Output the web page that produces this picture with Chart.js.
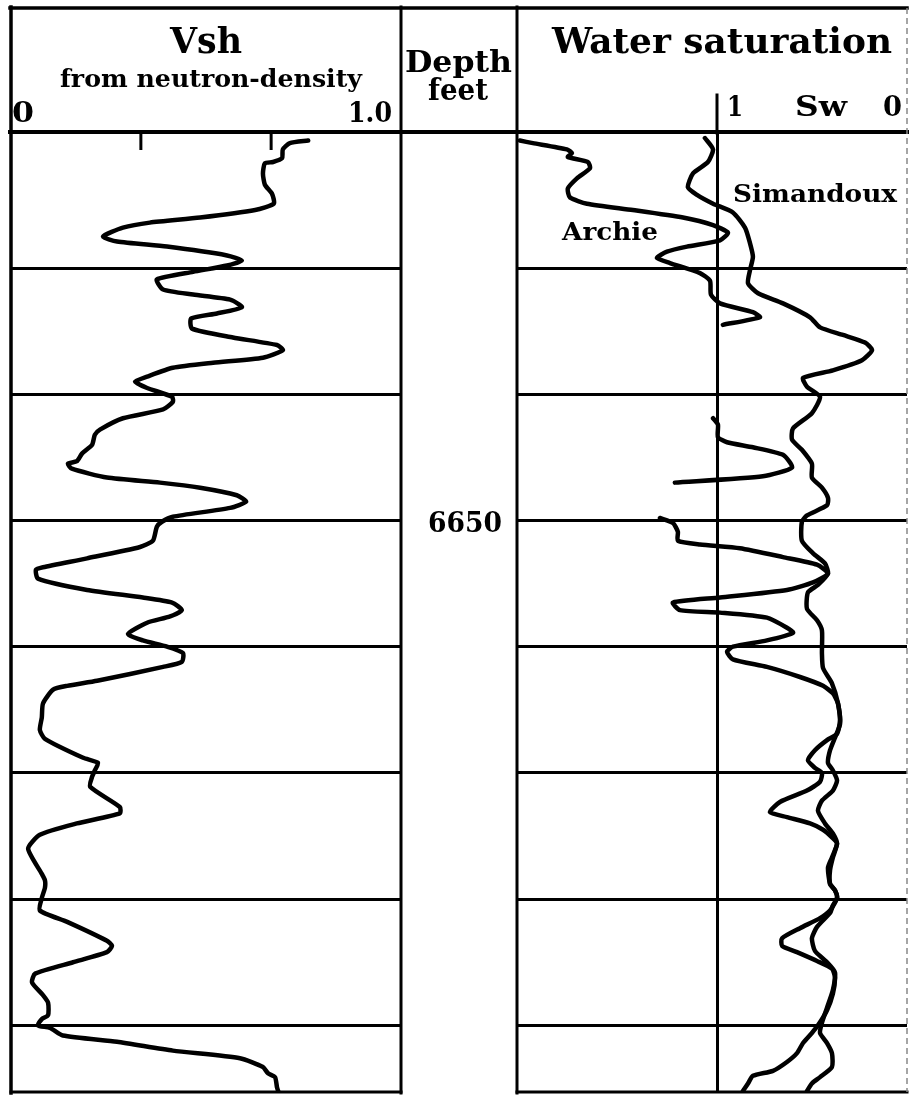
<!DOCTYPE html>
<html>
<head>
<meta charset="utf-8">
<script src="https://cdn.jsdelivr.net/npm/chart.js@4.4.0/dist/chart.umd.min.js"></script>
<style>
body { margin: 0; background: #fff; }
#page { position: relative; width: 909px; height: 1095px; overflow: hidden; background: #fff; }
canvas { position: absolute; }
#vsh_chart { left: 11px; top: 133px; }
#sw_chart { left: 517px; top: 133px; }
svg { position: absolute; left: 0; top: 0; }
svg text { font-family: "DejaVu Serif", serif; font-weight: bold; fill: #000; }
</style>
</head>
<body>
<div id="page">
<canvas id="vsh_chart" width="390" height="958"></canvas>
<canvas id="sw_chart" width="390" height="958"></canvas>
<svg width="909" height="1095">
  <g stroke="#000" fill="none" stroke-linecap="square">
    <line x1="10" y1="8" x2="907" y2="8" stroke-width="3.5"/>
    <line x1="10" y1="132" x2="907" y2="132" stroke-width="4"/>
    <line x1="11" y1="7" x2="11" y2="1093" stroke-width="3.5"/>
    <line x1="401" y1="7" x2="401" y2="1093" stroke-width="3"/>
    <line x1="517" y1="7" x2="517" y2="1093" stroke-width="3"/>
    <line x1="11" y1="1092" x2="401" y2="1092" stroke-width="3"/>
    <line x1="517" y1="1092" x2="907" y2="1092" stroke-width="3"/>
    <line x1="717" y1="95" x2="717" y2="133" stroke-width="3"/>
  </g>
  <line x1="907" y1="8" x2="907" y2="1092" stroke="#888" stroke-width="1.5" stroke-dasharray="6 4"/>
  <text x="206" y="53" font-size="35" text-anchor="middle" textLength="72" lengthAdjust="spacingAndGlyphs">Vsh</text>
  <text x="211" y="87" font-size="24" text-anchor="middle" textLength="302" lengthAdjust="spacingAndGlyphs">from neutron-density</text>
  <text x="12" y="122" font-size="28" textLength="22" lengthAdjust="spacingAndGlyphs">0</text>
  <text x="392" y="122" font-size="28" text-anchor="end" textLength="44" lengthAdjust="spacingAndGlyphs">1.0</text>
  <text x="458.5" y="72" font-size="30" text-anchor="middle" textLength="107" lengthAdjust="spacingAndGlyphs">Depth</text>
  <text x="458" y="100" font-size="29" text-anchor="middle" textLength="60" lengthAdjust="spacingAndGlyphs">feet</text>
  <text x="722" y="53" font-size="36" text-anchor="middle" textLength="340" lengthAdjust="spacingAndGlyphs">Water saturation</text>
  <text x="727" y="116" font-size="28" textLength="16" lengthAdjust="spacingAndGlyphs">1</text>
  <text x="821" y="116" font-size="28" text-anchor="middle" textLength="52" lengthAdjust="spacingAndGlyphs">Sw</text>
  <text x="902" y="116" font-size="28" text-anchor="end" textLength="19" lengthAdjust="spacingAndGlyphs">0</text>
  <text x="733" y="202" font-size="25" textLength="164" lengthAdjust="spacingAndGlyphs">Simandoux</text>
  <text x="562" y="240" font-size="25" textLength="96" lengthAdjust="spacingAndGlyphs">Archie</text>
  <text x="465" y="532" font-size="27" text-anchor="middle" textLength="74" lengthAdjust="spacingAndGlyphs">6650</text>
</svg>
</div>
<script>
// depth range of the log (feet) and the depth lines
var depthTop = 6619.3
var depthBottom = 6695.2
var depthLines = [6630, 6640, 6650, 6660, 6670, 6680, 6690]

// small marks at the top of the vsh track
var vshTicks = [0.333, 0.667]
// sw grid line
var swLines = [1]
var swMax = 2.063

// vsh from neutron-density
var vshDepth = [6619.9, 6620.1, 6620.6, 6621.3, 6621.6, 6621.7, 6622.5, 6623.4, 6624.1, 6624.9,
    6625.4, 6626.0, 6626.4, 6626.8, 6627.5, 6627.9, 6628.3, 6629.0, 6629.4, 6629.8,
    6630.3, 6630.9, 6631.7, 6632.1, 6632.5, 6633.1, 6633.6, 6634.0, 6634.8, 6635.5,
    6636.1, 6636.5, 6637.1, 6637.5, 6637.9, 6638.6, 6639.0, 6639.5, 6640.2, 6640.6,
    6641.2, 6641.9, 6642.8, 6643.2, 6644.0, 6644.7, 6645.3, 6645.5, 6645.9, 6646.6,
    6647.0, 6647.4, 6648.0, 6648.5, 6649.0, 6649.7, 6650.1, 6650.5, 6651.6, 6652.1,
    6653.0, 6653.7, 6653.9, 6654.6, 6655.5, 6656.1, 6656.5, 6657.1, 6657.6, 6658.1,
    6659.0, 6659.5, 6660.0, 6660.5, 6661.2, 6661.6, 6662.7, 6663.1, 6663.4, 6664.5,
    6665.6, 6666.6, 6667.3, 6668.8, 6669.2, 6669.8, 6670.3, 6671.1, 6672.7, 6673.2,
    6674.0, 6674.9, 6676.0, 6678.0, 6678.5, 6679.1, 6679.9, 6680.9, 6681.8, 6683.3,
    6683.7, 6684.2, 6685.0, 6685.9, 6686.6, 6687.6, 6688.2, 6689.2, 6689.5, 6690.0,
    6690.2, 6690.8, 6691.3, 6692.0, 6692.6, 6693.3, 6693.8, 6694.1, 6694.9, 6695.2]
var vshValue = [0.762, 0.715, 0.697, 0.695, 0.672, 0.651, 0.646, 0.651, 0.669, 0.674,
    0.626, 0.485, 0.356, 0.287, 0.236, 0.272, 0.400, 0.554, 0.592, 0.554,
    0.467, 0.374, 0.390, 0.467, 0.562, 0.592, 0.528, 0.462, 0.464, 0.569,
    0.682, 0.697, 0.646, 0.518, 0.415, 0.349, 0.318, 0.349, 0.413, 0.415,
    0.390, 0.287, 0.228, 0.215, 0.208, 0.182, 0.169, 0.146, 0.156, 0.246,
    0.382, 0.485, 0.579, 0.603, 0.562, 0.415, 0.387, 0.374, 0.364, 0.331,
    0.195, 0.082, 0.064, 0.069, 0.195, 0.338, 0.413, 0.438, 0.408, 0.349,
    0.300, 0.338, 0.400, 0.441, 0.438, 0.390, 0.221, 0.144, 0.108, 0.082,
    0.079, 0.074, 0.087, 0.185, 0.223, 0.215, 0.208, 0.203, 0.279, 0.279,
    0.169, 0.074, 0.044, 0.079, 0.087, 0.087, 0.079, 0.074, 0.144, 0.246,
    0.259, 0.246, 0.159, 0.062, 0.054, 0.082, 0.095, 0.095, 0.079, 0.069,
    0.100, 0.133, 0.272, 0.415, 0.587, 0.646, 0.659, 0.677, 0.682, 0.685]

// archie sw (null = gap in the curve)
var archieDepth = [6619.9, 6620.1, 6620.6, 6620.9, 6621.2, 6621.6, 6622.1, 6622.9, 6623.7, 6624.4,
    6624.9, 6625.4, 6626.0, 6626.6, 6627.2, 6627.8, 6628.3, 6628.7, 6629.2, 6629.6,
    6630.4, 6631.0, 6632.1, 6632.8, 6633.5, 6633.9, 6634.5,
    null,
    6641.9, 6642.4, 6643.4, 6643.8, 6644.2, 6644.8, 6645.8, 6646.5, 6647.0,
    null,
    6649.8, 6650.2, 6650.9, 6651.6, 6651.9, 6652.2, 6652.9, 6653.5, 6654.2, 6654.9,
    6655.5, 6656.1, 6656.5, 6657.1, 6657.3, 6657.7, 6658.5, 6658.9, 6659.5, 6660.0,
    6660.4, 6661.0, 6661.6, 6662.4, 6663.1, 6663.7,
    6664.5, 6665.8, 6666.9, 6667.4, 6668.2, 6669.0, 6669.6, 6670.0, 6670.7, 6671.4,
    6672.3, 6673.1, 6673.5, 6674.0, 6674.5, 6675.1, 6675.6, 6676.7, 6677.5, 6678.8,
    6679.3, 6679.9, 6680.9, 6681.5, 6682.3, 6683.1, 6683.7, 6684.2, 6684.9, 6685.5,
    6686.2, 6687.5, 6688.8, 6690.0, 6690.6, 6691.4, 6692.2, 6692.9, 6693.6, 6694.0,
    6694.6, 6695.2]
var archieSw = [2.048, 1.979, 1.799, 1.772, 1.794, 1.688, 1.677, 1.746, 1.794, 1.783,
    1.693, 1.450, 1.185, 1.026, 0.947, 0.989, 1.164, 1.270, 1.323, 1.254,
    1.095, 1.042, 1.037, 0.989, 0.815, 0.778, 0.974,
    null,
    1.026, 1.0, 1.0, 0.952, 0.815, 0.656, 0.608, 0.762, 1.228,
    null,
    1.307, 1.238, 1.212, 1.212, 1.095, 0.884, 0.656, 0.476, 0.418, 0.497,
    0.635, 0.989, 1.238, 1.201, 0.989, 0.741, 0.635, 0.603, 0.741, 0.921,
    0.952, 0.921, 0.741, 0.566, 0.444, 0.392,
    0.365, 0.354, 0.370, 0.423, 0.487, 0.524, 0.487, 0.450, 0.460, 0.529,
    0.672, 0.725, 0.635, 0.513, 0.444, 0.397, 0.370, 0.397, 0.418, 0.407,
    0.381, 0.370, 0.407, 0.460, 0.566, 0.661, 0.661, 0.582, 0.476, 0.397,
    0.381, 0.392, 0.423, 0.471, 0.503, 0.550, 0.582, 0.635, 0.709, 0.815,
    0.841, 0.868]

// simandoux sw
var simDepth = [6619.7, 6620.6, 6621.6, 6622.5, 6623.6, 6624.2, 6624.9, 6625.6, 6626.8, 6628.0,
    6629.1, 6630.2, 6631.2, 6632.0, 6632.8, 6633.9, 6634.7, 6635.3, 6635.9, 6636.5,
    6637.3, 6638.1, 6638.7, 6639.4, 6640.2, 6641.5, 6642.7, 6643.6, 6644.4, 6645.5,
    6646.6, 6647.4, 6648.2, 6648.8, 6649.6, 6650.1, 6651.6, 6652.6, 6653.4, 6654.2,
    6655.1, 6655.7, 6657.0, 6657.9, 6658.7, 6660.5, 6661.7, 6662.9, 6664.5, 6666.1,
    6667.2, 6668.2, 6669.2, 6669.8, 6670.6, 6671.4, 6672.2, 6673.0, 6674.0, 6674.8,
    6675.6, 6676.7, 6677.7, 6678.8, 6679.3, 6679.9, 6680.5, 6681.1, 6682.2, 6683.1,
    6684.1, 6685.0, 6685.8, 6687.2, 6688.6, 6689.8, 6690.6, 6691.4, 6692.2, 6693.3,
    6694.1, 6694.6, 6695.2]
var simSw = [1.069, 1.026, 1.053, 1.132, 1.159, 1.111, 1.026, 0.921, 0.857, 0.831,
    0.815, 0.831, 0.841, 0.788, 0.656, 0.513, 0.460, 0.339, 0.222, 0.185,
    0.238, 0.392, 0.550, 0.529, 0.460, 0.503, 0.603, 0.608, 0.556, 0.503,
    0.503, 0.450, 0.418, 0.423, 0.529, 0.556, 0.556, 0.497, 0.434, 0.418,
    0.471, 0.524, 0.529, 0.476, 0.450, 0.450, 0.444, 0.397, 0.365, 0.354,
    0.381, 0.407, 0.418, 0.392, 0.370, 0.392, 0.450, 0.471, 0.434, 0.392,
    0.370, 0.392, 0.407, 0.407, 0.381, 0.370, 0.392, 0.407, 0.476, 0.503,
    0.487, 0.423, 0.381, 0.392, 0.423, 0.450, 0.460, 0.423, 0.397, 0.397,
    0.460, 0.503, 0.529]


function toPoints(xs, ys){
    var pts = []
    for (var i = 0; i < xs.length; i++){
        pts.push({x: xs[i], y: ys[i]})
    }
    return pts
}

function curve(xs, ys){
    return {
        data: toPoints(xs, ys),
        showLine: true,
        borderColor: '#000',
        borderWidth: 4.5,
        borderJoinStyle: 'round',
        borderCapStyle: 'round',
        pointRadius: 0,
        tension: 0.2,
        spanGaps: false
    }
}

function depthAxis(){
    return {
        type: 'linear',
        reverse: true,
        min: depthTop,
        max: depthBottom,
        afterBuildTicks: function(scale){
            scale.ticks = depthLines.map(function(v){ return {value: v} })
        },
        ticks: {display: false},
        grid: {color: '#000', lineWidth: 3, drawTicks: false},
        border: {display: false}
    }
}

var topTicks = {
    id: 'topTicks',
    afterDraw: function(chart){
        var ctx = chart.ctx
        var top = chart.chartArea.top
        ctx.save()
        ctx.strokeStyle = '#000'
        ctx.lineWidth = 3
        for (var v of vshTicks){
            var px = chart.scales.x.getPixelForValue(v)
            ctx.beginPath()
            ctx.moveTo(px, top)
            ctx.lineTo(px, top + 17)
            ctx.stroke()
        }
        ctx.restore()
    }
}

var baseOptions = {
    responsive: false,
    animation: false,
    devicePixelRatio: 1,
    events: [],
    layout: {padding: 0},
    plugins: {legend: {display: false}, tooltip: {enabled: false}}
}

var vshChart = new Chart(document.getElementById('vsh_chart').getContext('2d'), {
    type: 'scatter',
    data: {datasets: [curve(vshValue, vshDepth)]},
    options: Object.assign({}, baseOptions, {
        scales: {
            x: {type: 'linear', min: 0, max: 1, display: false},
            y: depthAxis()
        }
    }),
    plugins: [topTicks]
})

var swChart = new Chart(document.getElementById('sw_chart').getContext('2d'), {
    type: 'scatter',
    data: {datasets: [curve(archieSw, archieDepth), curve(simSw, simDepth)]},
    options: Object.assign({}, baseOptions, {
        scales: {
            x: {
                type: 'linear', min: 0, max: swMax, reverse: true,
                afterBuildTicks: function(scale){
                    scale.ticks = swLines.map(function(v){ return {value: v} })
                },
                ticks: {display: false},
                grid: {color: '#000', lineWidth: 3, drawTicks: false},
                border: {display: false}
            },
            y: depthAxis()
        }
    })
})
</script>
</body>
</html>
